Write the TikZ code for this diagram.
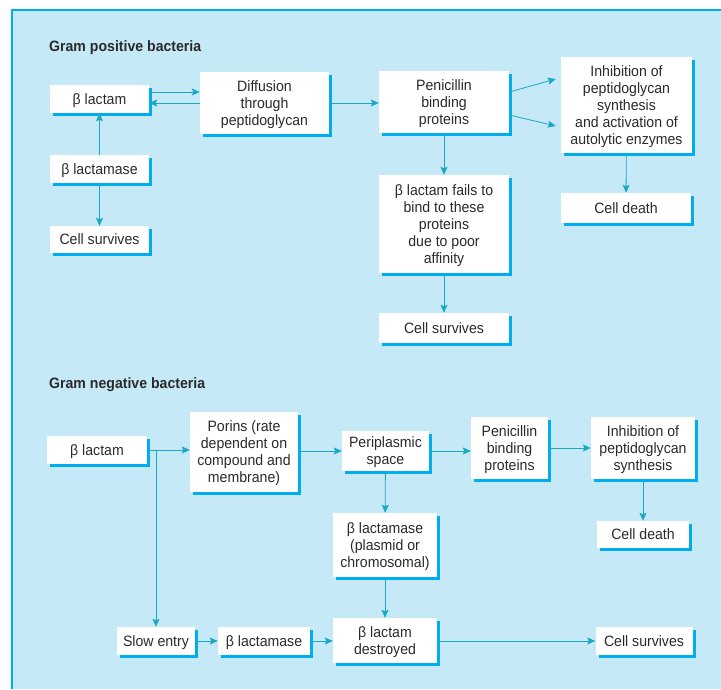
\documentclass[tikz,border=0pt]{standalone}
\usepackage{fontspec}
\setmainfont{Liberation Sans}[FakeStretch=0.94]
\usetikzlibrary{shadows,arrows.meta}
\definecolor{panelblue}{HTML}{C6E9F8}
\definecolor{shadowblue}{HTML}{00AEEF}
\definecolor{arrowteal}{HTML}{1BA8C4}
\definecolor{textgray}{HTML}{2A2A2A}
\tikzset{
  box/.style={fill=white, text=textgray, align=center, inner sep=0pt,
    text depth=0pt, font=\fontsize{15}{17}\selectfont,
    general shadow={fill=shadowblue, shadow xshift=3pt, shadow yshift=-3pt}},
  arr/.style={draw=arrowteal, line width=0.8pt, -{Stealth[length=8pt,width=7pt,inset=1.5pt]}},
  heading/.style={anchor=base west, text=textgray, inner sep=0pt,
    font=\fontsize{15}{17}\selectfont\bfseries}
}
\begin{document}
\begin{tikzpicture}[x=1pt,y=-1pt]
  \useasboundingbox (0,0) rectangle (721,689);
  % panel
  \fill[panelblue] (12,10) rectangle (721,689);
  \draw[shadowblue, line width=1.2pt] (12,689) -- (12,10) -- (721,10);
  % Gram positive
  \node[heading] (tpos) at (49,51) {Gram positive bacteria};
  \node[box, minimum width=99pt, minimum height=28pt] (lacP) at (99.5,99) {β lactam};
  \node[box, minimum width=129pt, minimum height=62pt] (diff) at (264.5,103) {Diffusion\\through\\peptidoglycan};
  \node[box, minimum width=130pt, minimum height=62pt] (pbpP) at (444,102) {Penicillin\\binding\\proteins};
  \node[box, minimum width=131pt, minimum height=96pt] (inhP) at (626.5,105) {Inhibition of\\peptidoglycan\\synthesis\\and activation of\\autolytic enzymes};
  \node[box, minimum width=99pt, minimum height=28pt] (lmsP) at (99.5,169) {β lactamase};
  \node[box, minimum width=99pt, minimum height=27pt] (survL) at (99.5,239.5) {Cell survives};
  \node[box, minimum width=130pt, minimum height=98pt] (fails) at (444,224) {β lactam fails to\\bind to these\\proteins\\due to poor\\affinity};
  \node[box, minimum width=130pt, minimum height=30pt] (survM) at (444,328) {Cell survives};
  \node[box, minimum width=130pt, minimum height=30pt] (deathP) at (626,208) {Cell death};
  \draw[arr] (lacP.east) ++(0,7pt) coordinate (up) -- (up -| diff.west);
  \draw[arr] (diff.west) -- (diff.west -| lacP.east);
  \draw[arr] (diff.east) -- (diff.east -| pbpP.west);
  \draw[arr] ([yshift=10pt]pbpP.east) -- ([xshift=-5pt,yshift=26pt]inhP.west);
  \draw[arr] ([yshift=-13pt]pbpP.east) -- ([xshift=-5pt,yshift=-21pt]inhP.west);
  \draw[arr] (lmsP) -- (lacP);
  \draw[arr] (lmsP) -- (survL);
  \draw[arr] (pbpP) -- (fails);
  \draw[arr] (fails) -- (survM);
  \draw[arr] (inhP) -- (deathP);
  % Gram negative
  \node[heading] (tneg) at (49,388) {Gram negative bacteria};
  \node[box, minimum width=100pt, minimum height=28pt] (lacN) at (97,450) {β lactam};
  \node[box, minimum width=108pt, minimum height=80pt] (porins) at (244,452) {Porins (rate\\dependent on\\compound and\\membrane)};
  \node[box, minimum width=87pt, minimum height=40pt] (peri) at (385.5,451) {Periplasmic\\space};
  \node[box, minimum width=77pt, minimum height=62pt] (pbpN) at (509.5,448) {Penicillin\\binding\\proteins};
  \node[box, minimum width=104pt, minimum height=62pt] (inhN) at (643,448) {Inhibition of\\peptidoglycan\\synthesis};
  \node[box, minimum width=92pt, minimum height=27pt] (deathN) at (643,534.5) {Cell death};
  \node[box, minimum width=104pt, minimum height=64pt] (lmsN) at (385,545) {β lactamase\\(plasmid or\\chromosomal)};
  \node[box, minimum width=78pt, minimum height=28pt] (slow) at (156,641) {Slow entry};
  \node[box, minimum width=92pt, minimum height=28pt] (lms2) at (264,641) {β lactamase};
  \node[box, minimum width=104pt, minimum height=45pt] (destr) at (385,640.5) {β lactam\\destroyed};
  \node[box, minimum width=97pt, minimum height=28pt] (survN) at (644,641) {Cell survives};
  \draw[arr] (lacN.east) -- (lacN.east -| porins.west);
  \draw[arr] (lacN.east -| slow.north) -- (slow.north);
  \draw[arr] (porins.east |- peri.west) -- (peri.west);
  \draw[arr] (peri.east) -- (peri.east -| pbpN.west);
  \draw[arr] (pbpN) -- (inhN);
  \draw[arr] (inhN) -- (deathN);
  \draw[arr] (peri) -- (lmsN);
  \draw[arr] (lmsN) -- (destr);
  \draw[arr] (slow) -- (lms2);
  \draw[arr] (lms2) -- (lms2 -| destr.west);
  \draw[arr] (destr.east |- survN.west) -- (survN.west);
\end{tikzpicture}
\end{document}
